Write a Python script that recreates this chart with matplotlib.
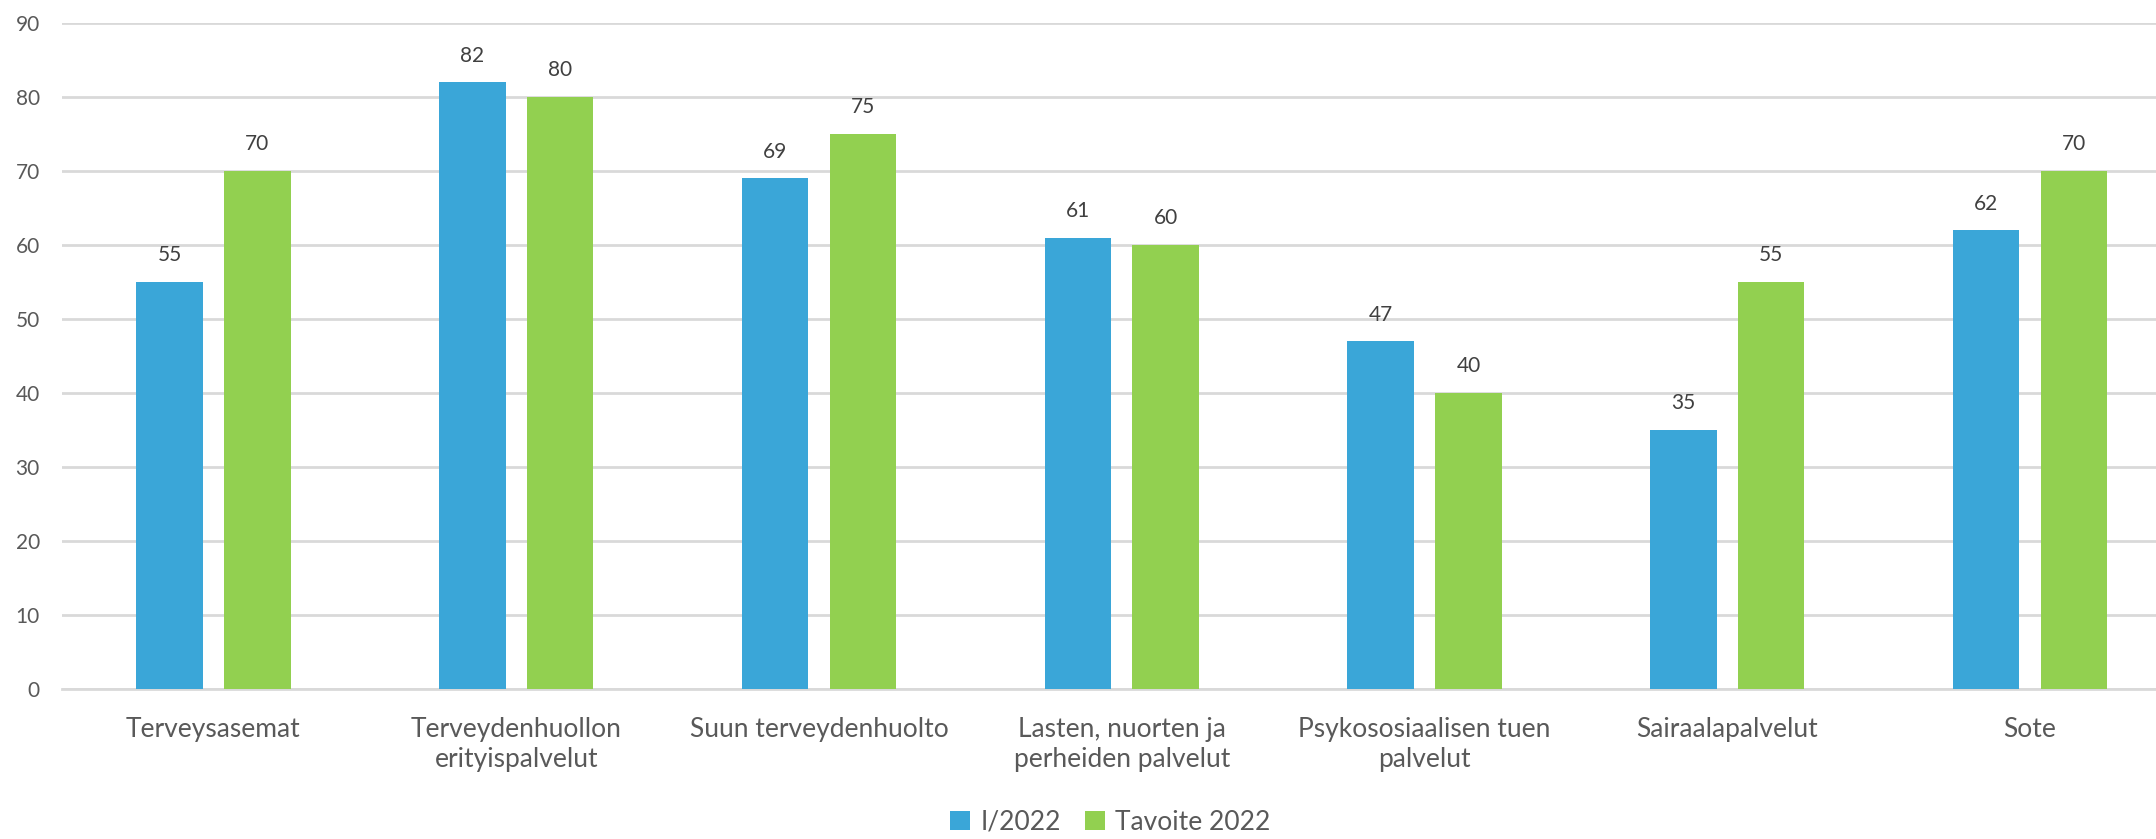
import matplotlib
matplotlib.use("Agg")
import matplotlib.pyplot as plt
import numpy as np

categories = [
    "Terveysasemat",
    "Terveydenhuollon\nerityispalvelut",
    "Suun terveydenhuolto",
    "Lasten, nuorten ja\nperheiden palvelut",
    "Psykososiaalisen tuen\npalvelut",
    "Sairaalapalvelut",
    "Sote",
]
i_2022 = [55, 82, 69, 61, 47, 35, 62]
tavoite_2022 = [70, 80, 75, 60, 40, 55, 70]
series_names = ["I/2022", "Tavoite 2022"]

BLUE = "#3AA6D8"
GREEN = "#92D050"
GRID = "#D9D9D9"
TEXT = "#595959"

plt.rcParams["font.family"] = ["Lato", "DejaVu Sans"]

fig = plt.figure(figsize=(21.56, 8.39), dpi=100)
# plot area runs slightly past the right edge of the canvas
ax = fig.add_axes([0.0288, 0.1788, 0.983, 0.7938])

x = np.arange(len(categories))
w = 0.22
off = 0.145
b1 = ax.bar(x - off, i_2022, w, color=BLUE, label=series_names[0], zorder=3)
b2 = ax.bar(x + off, tavoite_2022, w, color=GREEN, label=series_names[1], zorder=3)

for bars in (b1, b2):
    ax.bar_label(bars, padding=12, fontsize=15, color="#404040")

ax.set_xlim(-0.5, len(categories) - 0.5)
ax.set_ylim(0, 90)
ax.set_yticks(np.arange(0, 91, 10))
ax.yaxis.grid(True, color=GRID, linewidth=2, zorder=0)
ax.set_axisbelow(True)

ax.set_xticks(x)
ax.set_xticklabels(categories, fontsize=19, color=TEXT, linespacing=1.25)
ax.tick_params(axis="x", length=0, pad=20)
ax.tick_params(axis="y", length=0, pad=16, labelsize=15, labelcolor=TEXT)

for s in ["top", "right", "left"]:
    ax.spines[s].set_visible(False)
ax.spines["bottom"].set_color(GRID)
ax.spines["bottom"].set_linewidth(2)

fig.legend(loc="center", bbox_to_anchor=(0.515, 0.02), ncol=2, frameon=False,
           fontsize=19, labelcolor=TEXT, handlelength=0.75, handleheight=0.75,
           handletextpad=0.4, columnspacing=0.9)

fig.savefig("out.png", dpi=100)
